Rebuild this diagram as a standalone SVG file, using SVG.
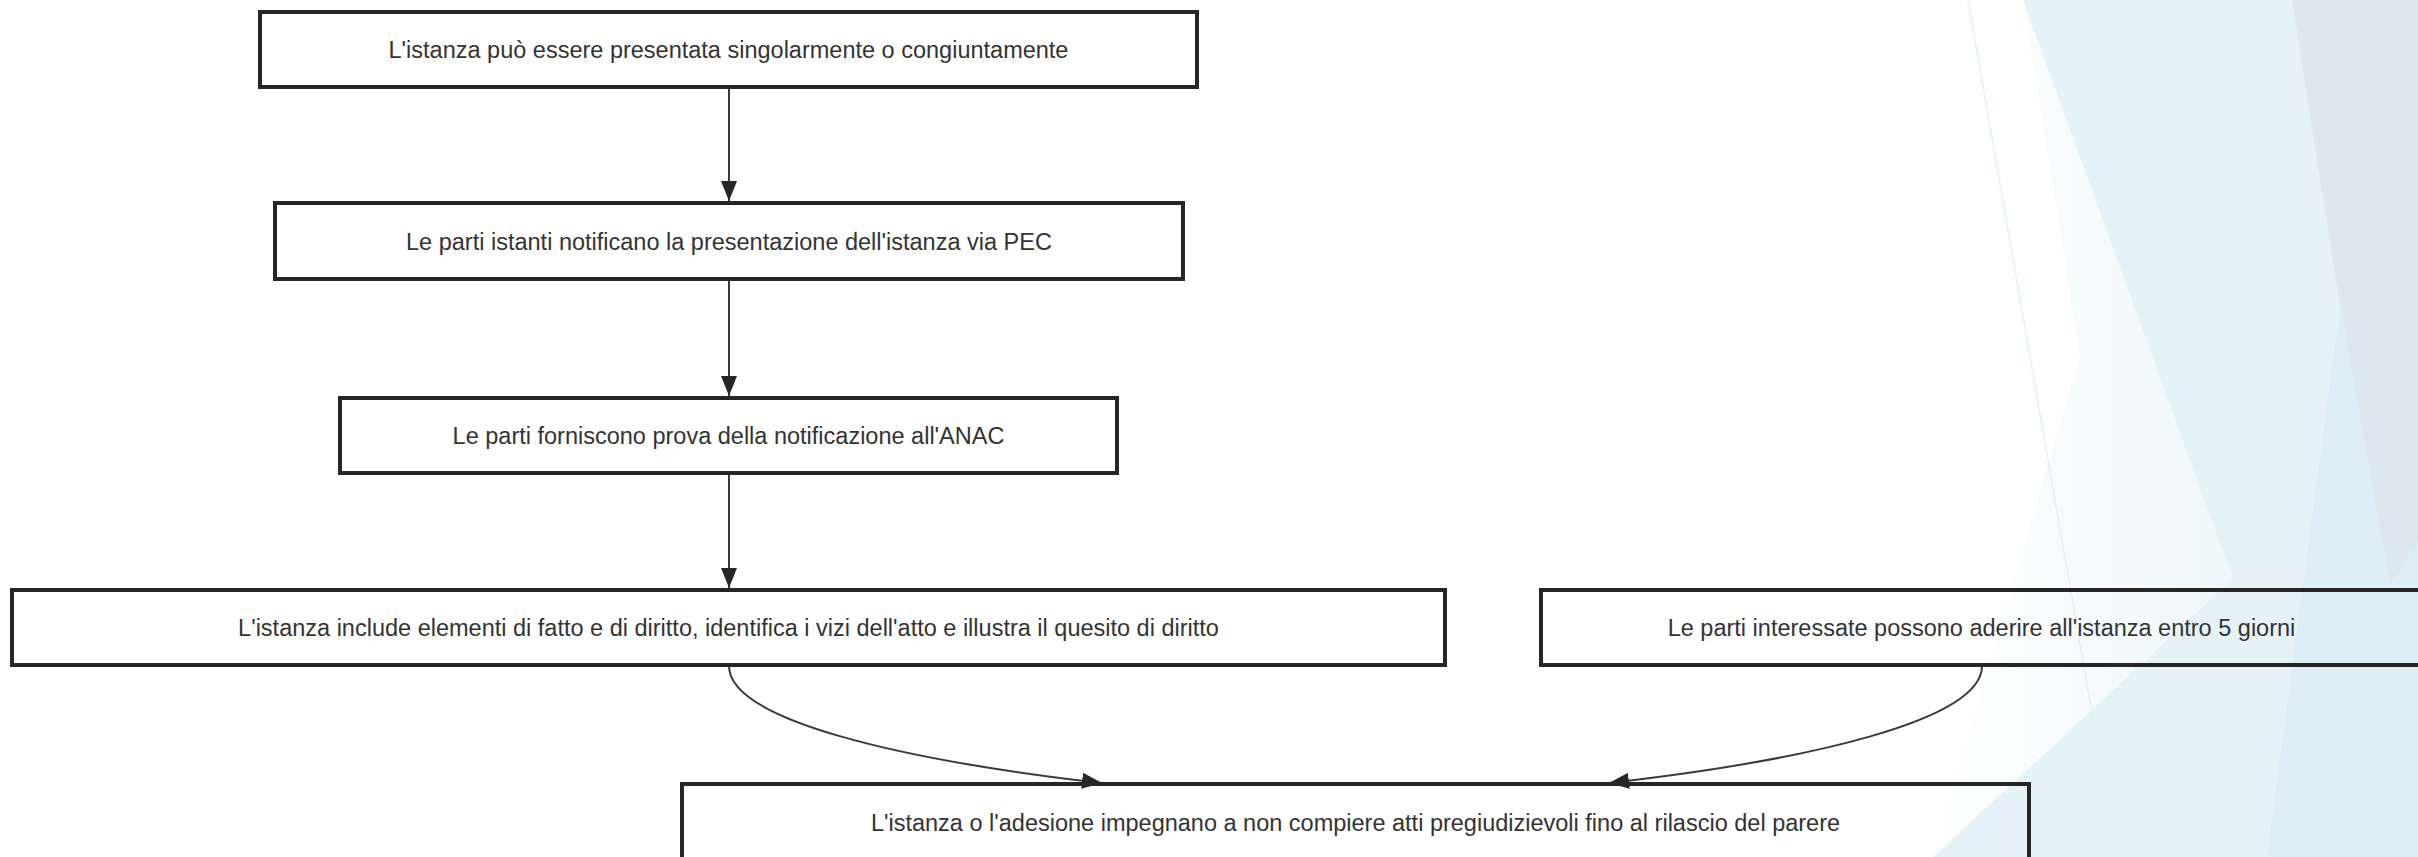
<svg xmlns="http://www.w3.org/2000/svg" width="2418" height="857" viewBox="0 0 2418 857">
<defs>
<style>
.box{fill:none;stroke:#262626;stroke-width:4}
.lbl{font-family:"Liberation Sans",Arial,sans-serif;font-size:23.5px;fill:#333;text-anchor:middle}
.edge{fill:none;stroke:#3a3a3a;stroke-width:2}
</style>
<linearGradient id="fade" x1="0" y1="0" x2="1" y2="0">
<stop offset="0" stop-color="#ffffff"/>
<stop offset="1" stop-color="#e3f2f8"/>
</linearGradient>
<marker id="ah" viewBox="0 0 20 16" refX="20" refY="8" markerWidth="20" markerHeight="16" markerUnits="userSpaceOnUse" orient="auto">
<path d="M0,0 L20,8 L0,16 z" fill="#262626"/>
</marker>
</defs>
<rect x="0" y="0" width="2418" height="857" fill="#ffffff"/>
<g id="background">
<polygon points="2023,0 2080,355 1933,857 2418,857 2418,0" fill="url(#fade)"/>
<polygon points="2023,0 2418,0 2418,857 1933,857 2233,579" fill="#e5f3f9"/>
<polygon points="2340,306 2390,585 2418,540 2418,857 2267,857" fill="#dcedf5"/>
<polygon points="2292,0 2418,0 2418,540 2390,585 2340,306" fill="#dde7ed"/>
<line x1="1968" y1="0" x2="2117" y2="857" stroke="#e2f1f8" stroke-width="1.5"/>
</g>
<g id="connectors">
<path class="edge" d="M729,89 L729,201" marker-end="url(#ah)"/>
<path class="edge" d="M729,280 L729,396" marker-end="url(#ah)"/>
<path class="edge" d="M729,474 L729,588" marker-end="url(#ah)"/>
<path class="edge" d="M729,666 C729,720 900,760 1102,783" marker-end="url(#ah)"/>
<path class="edge" d="M1982,666 C1982,720 1811,760 1609,783" marker-end="url(#ah)"/>
</g>
<g id="n1">
<rect class="box" x="260" y="12" width="937" height="75"/>
<text class="lbl" x="728.5" y="58">L'istanza può essere presentata singolarmente o congiuntamente</text>
</g>
<g id="n2">
<rect class="box" x="275" y="203" width="908" height="76"/>
<text class="lbl" x="729" y="249.5">Le parti istanti notificano la presentazione dell'istanza via PEC</text>
</g>
<g id="n3">
<rect class="box" x="340" y="398" width="777" height="75"/>
<text class="lbl" x="728.5" y="444">Le parti forniscono prova della notificazione all'ANAC</text>
</g>
<g id="n4">
<rect class="box" x="12" y="590" width="1433" height="75"/>
<text class="lbl" x="728.5" y="636">L'istanza include elementi di fatto e di diritto, identifica i vizi dell'atto e illustra il quesito di diritto</text>
</g>
<g id="n5">
<rect class="box" x="1541" y="590" width="881" height="75"/>
<text class="lbl" x="1981.5" y="636">Le parti interessate possono aderire all'istanza entro 5 giorni</text>
</g>
<g id="n6">
<rect class="box" x="682" y="784" width="1347" height="78"/>
<text class="lbl" x="1355.5" y="831">L'istanza o l'adesione impegnano a non compiere atti pregiudizievoli fino al rilascio del parere</text>
</g>
</svg>
